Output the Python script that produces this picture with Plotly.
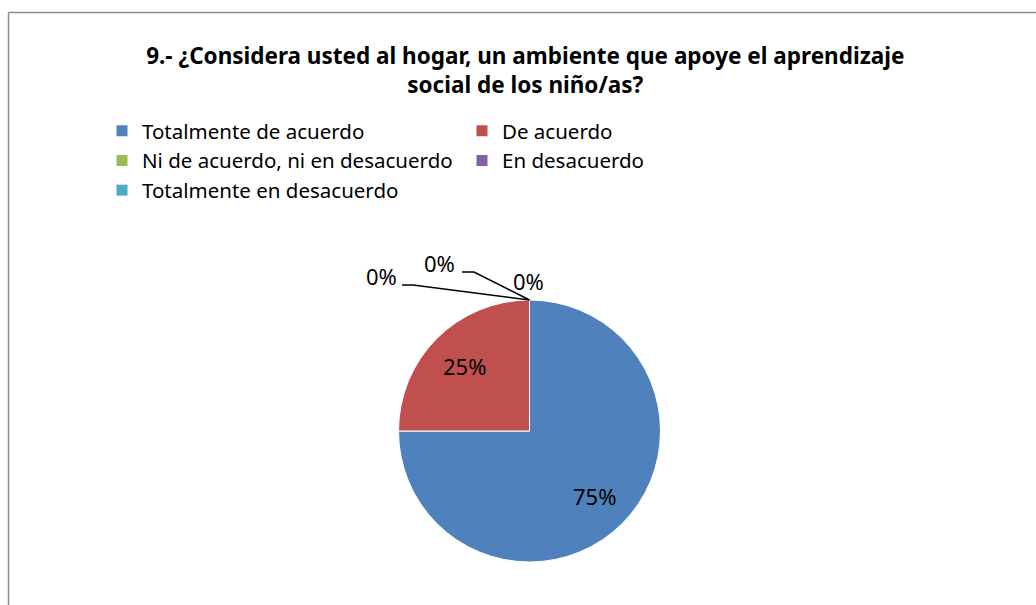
import math
import plotly.graph_objects as go

categories = ["Totalmente de acuerdo", "De acuerdo", "Ni de acuerdo, ni en desacuerdo",
              "En desacuerdo", "Totalmente en desacuerdo"]
values = [75, 25, 0, 0, 0]
colors = ["#4F81BD", "#C0504D", "#9BBB59", "#8064A2", "#4BACC6"]
title_text = "9.- ¿Considera usted al hogar, un ambiente que apoye el aprendizaje<br>social de los niño/as?"

W, H = 1036, 605
FONT = "'Noto Sans', 'DejaVu Sans', sans-serif"

def px(x):
    return x / W

def py(y):
    return 1 - y / H

cx, cy, r = 529.5, 431, 131

fig = go.Figure(go.Pie(
    labels=categories,
    values=values,
    sort=False,
    direction="clockwise",
    rotation=0,
    marker=dict(colors=colors, line=dict(color="white", width=1)),
    textinfo="none",
    hoverinfo="label+percent",
    domain=dict(x=[px(cx - r), px(cx + r)], y=[py(cy + r), py(cy - r)]),
))

# percentage labels for non-zero slices, placed on the slice bisector
total = sum(values)
annotations = []
cum = 0.0
for v in values:
    frac = v / total
    if v > 0:
        mid = (cum + frac / 2) * 2 * math.pi
        lx = cx + 0.7 * r * math.sin(mid)
        ly = cy - 0.7 * r * math.cos(mid)
        annotations.append(dict(x=px(lx), y=py(ly), xref="paper", yref="paper",
                                xanchor="center", yanchor="middle",
                                text=f"{round(100 * frac)}%", showarrow=False,
                                font=dict(family=FONT, size=22, color="black")))
    cum += frac

# labels for zero-value slices (outside, with leader lines)
zero_pct = [f"{round(100 * v / total)}%" for v in values[2:]]
label_pos = [(381, 276), (439, 263), (528, 281)]
for txt, (x, y) in zip(zero_pct, label_pos):
    annotations.append(dict(x=px(x), y=py(y), xref="paper", yref="paper", text=txt,
                            xanchor="center", yanchor="middle",
                            showarrow=False, font=dict(family=FONT, size=22, color="black")))

shapes = [
    dict(type="path", xref="paper", yref="paper",
         path=f"M {px(402)},{py(285)} L {px(413)},{py(285)} L {px(cx)},{py(cy - r)}",
         line=dict(color="black", width=1.5)),
    dict(type="path", xref="paper", yref="paper",
         path=f"M {px(462)},{py(272)} L {px(474)},{py(272)} L {px(cx)},{py(cy - r)}",
         line=dict(color="black", width=1.5)),
    dict(type="line", xref="paper", yref="paper", x0=px(8.5), x1=1.01, y0=py(12.5), y1=py(12.5),
         line=dict(color="#8c8c8c", width=1.5)),
    dict(type="line", xref="paper", yref="paper", x0=px(8.5), x1=px(8.5), y0=-0.01, y1=py(12.5),
         line=dict(color="#8c8c8c", width=1.5)),
]

fig.update_layout(
    width=W, height=H,
    margin=dict(l=0, r=0, t=0, b=0),
    paper_bgcolor="white",
    plot_bgcolor="white",
    font=dict(family=FONT, size=20, color="black"),
    title=dict(text=f"<b>{title_text}</b>", x=0.507, xanchor="center", y=py(64), yanchor="middle",
               font=dict(family=FONT, size=22.5, color="black")),
    legend=dict(orientation="h", x=px(102), xanchor="left", y=py(111), yanchor="top",
                entrywidth=315, entrywidthmode="pixels",
                font=dict(family=FONT, size=20.5, color="black"),
                traceorder="normal", itemclick=False),
    annotations=annotations,
    shapes=shapes,
)

fig.write_html("out.html", config={"displayModeBar": False},
               post_script="document.body.style.margin='0';document.body.style.overflow='hidden';")
